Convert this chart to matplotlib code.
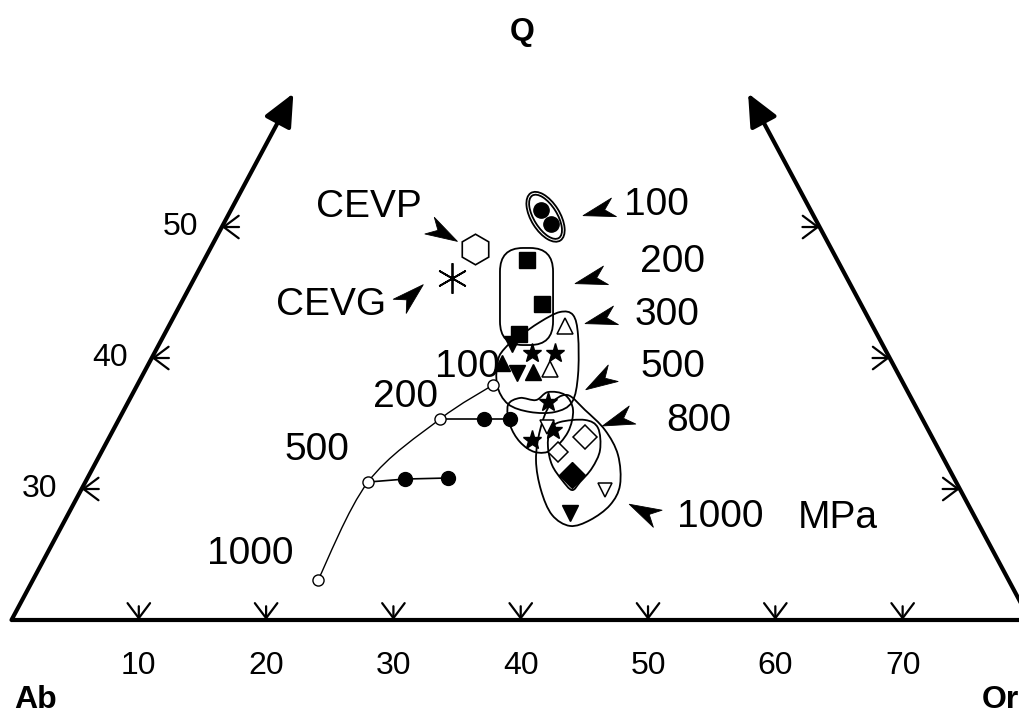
import numpy as np
import matplotlib
matplotlib.use("Agg")
import matplotlib.pyplot as plt
from matplotlib.path import Path
from matplotlib.patches import PathPatch, Ellipse, FancyBboxPatch
from matplotlib.markers import MarkerStyle
from matplotlib.transforms import Affine2D

plt.rcParams['font.family'] = ['Liberation Sans', 'DejaVu Sans']

# ---------------- frame of the (truncated) Q-Ab-Or diagram ----------------
q_base = 20.0          # bottom line of the diagram (Q %)
q_top = 60.2           # top of the side arrows (Q %)
x_right = 80.0         # bottom-scale position of the Or corner
x_apex_left = 22.14    # left edge position at q_top
bottom_ticks = [10, 20, 30, 40, 50, 60, 70]
side_ticks = [30, 40, 50]

# ---------------- experimental compositions (bottom-scale x, Q %) ----------------
circ_x = [41.56, 42.38]
circ_q = [51.30, 50.23]
square_x = [40.50, 41.67, 39.87]
square_q = [47.48, 44.12, 41.83]
tri_open_x = [43.48, 42.30]
tri_open_q = [42.44, 39.16]
star_x = [40.89, 42.69, 42.14, 40.89, 42.54]
star_q = [40.38, 40.38, 36.64, 33.74, 34.50]
tri_up_x = [38.53, 40.97]
tri_up_q = [39.62, 38.93]
tri_dn_x = [39.71, 39.32, 43.87]
tri_dn_q = [38.85, 41.07, 28.17]
tri_dn_open_x = [42.07, 46.62]
tri_dn_open_q = [34.73, 29.92]
dia_open_x = [45.05, 42.93]
dia_open_q = [33.97, 32.82]
dia_open_ms = [12, 10]
dia_fill_x = [44.03]
dia_fill_q = [31.07]
cevp_x, cevp_q = 36.41, 48.32
cevg_x, cevg_q = 34.60, 46.11

# ---------------- minimum-melt model curve ----------------
model_labels = ['100', '200', '500', '1000']
model_x = [37.82, 33.66, 28.00, 24.08]
model_q = [37.94, 35.34, 30.53, 23.05]
model_lab_x = [35.78, 30.91, 24.00, 18.74]
model_lab_q = [39.31, 37.02, 32.98, 25.04]
tie200_x = [33.66, 37.12, 39.16]
tie200_q = [35.34, 35.34, 35.34]
tie500_x = [28.00, 30.91, 34.29]
tie500_q = [30.53, 30.76, 30.84]

# ---------------- pressure envelopes ----------------
env100_center = (41.95, 50.78)
env100_size = [(4.3, 2.25), (3.85, 1.8)]
env100_angle = -57
env200_box = (38.37, 40.99, 4.17, 7.41)
env300_x = [38.77, 39.71, 41.52, 43.08, 44.11, 44.50, 44.50, 44.03, 42.69, 40.73, 39.00, 38.14, 38.22]
env300_q = [40.76, 41.53, 42.75, 43.51, 43.28, 41.76, 38.70, 36.64, 35.88, 35.88, 36.49, 37.94, 39.85]
env500_x = [41.20, 42.14, 43.48, 44.11, 43.71, 42.46, 41.12, 39.94, 39.16, 39.00, 39.94]
env500_q = [36.79, 37.40, 37.18, 36.03, 34.35, 32.98, 32.82, 33.59, 34.89, 36.41, 36.95]
env800_x = [42.30, 43.08, 45.05, 46.07, 46.23, 45.60, 44.66, 44.03, 43.24, 42.46, 42.14]
env800_q = [34.50, 35.11, 35.27, 34.66, 32.98, 31.60, 30.53, 29.92, 30.69, 31.83, 33.21]
env1000_x = [43.64, 45.05, 46.62, 47.64, 47.80, 47.02, 45.45, 43.87, 42.46, 41.59, 41.20, 41.52, 42.30]
env1000_q = [37.18, 36.03, 34.50, 32.60, 30.31, 28.78, 27.63, 27.18, 28.02, 29.92, 32.21, 34.50, 36.41]

# ---------------- labels with pointer arrowheads ----------------
p_labels = ['100', '200', '300', '500', '800', '1000']
p_lab_x = [50.63, 51.89, 51.49, 51.96, 54.01, 55.66]
p_lab_q = [51.68, 47.33, 43.28, 39.31, 35.19, 27.86]
p_arr_x = [46.07, 45.44, 46.23, 46.15, 47.57, 49.61]
p_arr_q = [51.22, 46.03, 42.98, 38.24, 35.27, 28.32]
p_arr_ang = [195, 195, 195, 211, 200, 153]
ref_labels = ['CEVP', 'CEVG']
ref_lab_x = [28.08, 25.10]
ref_lab_q = [51.53, 44.05]
ref_arr_x = [33.90, 31.38]
ref_arr_q = [49.54, 44.81]
ref_arr_ang = [-29.5, 42.6]


def smooth_path(xs, ys, closed):
    P = np.column_stack([xs, ys]).astype(float)
    n = len(P)
    verts = [P[0]]
    codes = [Path.MOVETO]
    segs = n if closed else n - 1
    for i in range(segs):
        p0 = P[(i - 1) % n] if (closed or i > 0) else P[i]
        p1 = P[i % n]
        p2 = P[(i + 1) % n]
        p3 = P[(i + 2) % n] if (closed or i + 2 < n) else P[i + 1]
        verts += [p1 + (p2 - p0) / 6.0, p2 - (p3 - p1) / 6.0, p2]
        codes += [Path.CURVE4] * 3
    if closed:
        verts.append(P[0])
        codes.append(Path.CLOSEPOLY)
    return Path(verts, codes)


fig = plt.figure(figsize=(10.19, 7.13), dpi=100)
ax = fig.add_axes([0, 0, 1, 1])
ax.set_xlim(-0.903, 79.14)
ax.set_ylim(12.90, 67.33)
ax.axis('off')

K = 'black'
# frame
ax.plot([0, x_right], [q_base, q_base], color=K, lw=3, solid_capstyle='butt', zorder=3)
edge_arrow = dict(arrowstyle='-|>,head_length=0.66,head_width=0.3', lw=3, color=K,
                  mutation_scale=30, shrinkA=0, shrinkB=0)
ax.annotate('', xy=(x_apex_left, q_top), xytext=(0, q_base), arrowprops=edge_arrow, zorder=3)
ax.annotate('', xy=(x_right - x_apex_left, q_top), xytext=(x_right, q_base), arrowprops=edge_arrow, zorder=3)

tick_arrow = dict(arrowstyle='->,head_length=0.6,head_width=0.45', lw=1.6, color=K,
                  mutation_scale=18, shrinkA=0, shrinkB=0)
for t in bottom_ticks:
    ax.annotate('', xy=(t, q_base), xytext=(t, q_base + 1.05), arrowprops=tick_arrow)
    ax.text(t, 16.5, str(t), ha='center', va='center', fontsize=23)
for q in side_ticks:
    frac = (q - q_base) / (q_top - q_base)
    xl = x_apex_left * frac
    xr = x_right - x_apex_left * frac
    ax.annotate('', xy=(xl, q), xytext=(xl + 1.35, q), arrowprops=tick_arrow)
    ax.annotate('', xy=(xr, q), xytext=(xr - 1.35, q), arrowprops=tick_arrow)
    ax.annotate(str(q), xy=(xl, q), xytext=(-30, 0), textcoords='offset points',
                ha='center', va='center', fontsize=23)

ax.text(40.1, 64.9, 'Q', ha='center', va='center', fontsize=23, fontweight='bold')
ax.text(1.9, 13.9, 'Ab', ha='center', va='center', fontsize=23, fontweight='bold')
ax.text(77.7, 13.9, 'Or', ha='center', va='center', fontsize=23, fontweight='bold')

# envelopes
env_kw = dict(fill=False, edgecolor=K, lw=1.3, zorder=4)
for w, h in env100_size:
    ax.add_patch(Ellipse(env100_center, w, h, angle=env100_angle, **env_kw))
bx, by, bw, bh = env200_box
ax.add_patch(FancyBboxPatch((bx, by), bw, bh, boxstyle='round,pad=0,rounding_size=1.8', **env_kw))
for ex, eq in [(env300_x, env300_q), (env500_x, env500_q), (env800_x, env800_q), (env1000_x, env1000_q)]:
    ax.add_patch(PathPatch(smooth_path(ex, eq, True), **env_kw))

# model curve
ax.add_patch(PathPatch(smooth_path(model_x, model_q, False), fill=False, edgecolor=K, lw=1.0, zorder=4))
ax.plot(tie200_x, tie200_q, color=K, lw=1.2, zorder=4)
ax.plot(tie500_x, tie500_q, color=K, lw=1.2, zorder=4)
ax.plot(tie200_x[1:], tie200_q[1:], 'o', color=K, ms=10, zorder=6)
ax.plot(tie500_x[1:], tie500_q[1:], 'o', color=K, ms=10, zorder=6)
ax.plot(model_x, model_q, 'o', mfc='white', mec=K, mew=1.0, ms=8, zorder=6)
for lab, lx, lq in zip(model_labels, model_lab_x, model_lab_q):
    ax.text(lx, lq, lab, ha='center', va='center', fontsize=28, zorder=5)

# experimental points
ax.plot(circ_x, circ_q, 'o', color=K, ms=11, zorder=6)
ax.plot(square_x, square_q, 's', color=K, ms=11, zorder=6)
ax.plot(tri_open_x, tri_open_q, '^', mfc='white', mec=K, mew=1.1, ms=11, zorder=6)
ax.plot(star_x, star_q, '*', color=K, ms=14, zorder=6)
ax.plot(tri_up_x, tri_up_q, '^', color=K, ms=11, zorder=6)
ax.plot(tri_dn_x, tri_dn_q, 'v', color=K, ms=11, zorder=6)
ax.plot(tri_dn_open_x, tri_dn_open_q, 'v', mfc='white', mec=K, mew=1.1, ms=10, zorder=6)
for dx, dq, dm in zip(dia_open_x, dia_open_q, dia_open_ms):
    ax.plot(dx, dq, 'D', mfc='white', mec=K, mew=1.1, ms=dm, zorder=6)
ax.plot(dia_fill_x, dia_fill_q, 'D', color=K, ms=13, zorder=6)
ax.plot(cevp_x, cevp_q, 'h', mfc='white', mec=K, mew=1.2, ms=22, zorder=6)
ax.plot(cevg_x, cevg_q, marker=(6, 2, 0), color=K, mew=1.3, ms=22, zorder=6)

# pointer arrowheads
stealth = Path([(1, 0), (-1, 0.6), (-0.4, 0), (-1, -0.6), (1, 0)],
               [Path.MOVETO, Path.LINETO, Path.LINETO, Path.LINETO, Path.CLOSEPOLY])


def pointer(x, q, ang):
    m = MarkerStyle(stealth, transform=Affine2D().rotate_deg(ang))
    ax.plot(x, q, marker=m, color=K, ms=23, mew=0.6, zorder=6)


for lab, lx, lq, axx, aq, ang in zip(p_labels, p_lab_x, p_lab_q, p_arr_x, p_arr_q, p_arr_ang):
    ax.text(lx, lq, lab, ha='center', va='center', fontsize=28)
    pointer(axx, aq, ang)
ax.text(64.92, 27.79, 'MPa', ha='center', va='center', fontsize=28)
for lab, lx, lq, axx, aq, ang in zip(ref_labels, ref_lab_x, ref_lab_q, ref_arr_x, ref_arr_q, ref_arr_ang):
    ax.text(lx, lq, lab, ha='center', va='center', fontsize=28)
    pointer(axx, aq, ang)

fig.savefig('out.png', dpi=100)
